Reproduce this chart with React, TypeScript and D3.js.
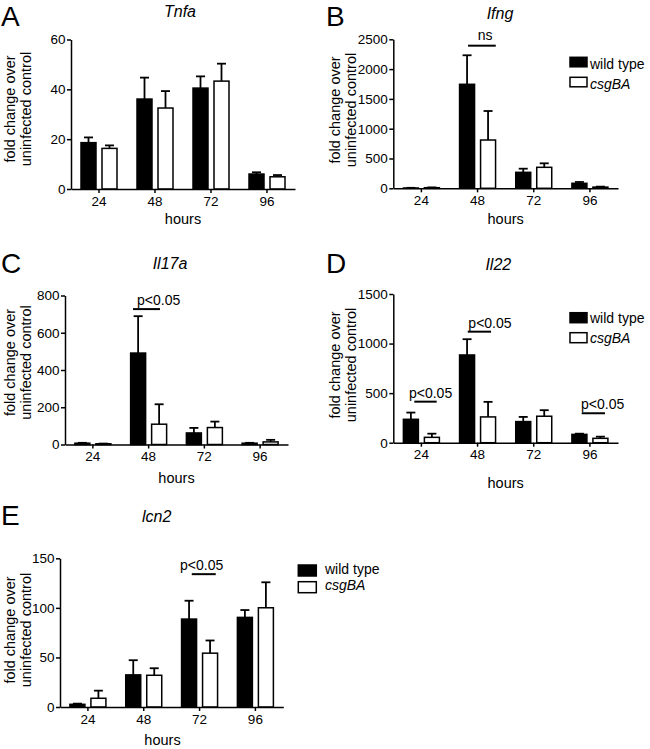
import { useRef, useEffect } from "react";
import * as d3 from "d3";

const FONT = "'Liberation Sans', Arial, Helvetica, sans-serif";
const W = 650;
const H = 749;

const HOURS = ["24", "48", "72", "96"];
const SERIES = ["wild type", "csgBA"];

// mean and upper SEM
const TNFA_WT = [18.6, 36.1, 40.5, 6.0];
const TNFA_WT_SEM = [2.1, 8.6, 4.7, 0.7];
const TNFA_KO = [16.3, 32.5, 43.3, 4.9];
const TNFA_KO_SEM = [1.2, 6.8, 7.0, 0.7];
const TNFA_TICKS = [0, 20, 40, 60];

const IFNG_WT = [5, 1745, 268, 84];
const IFNG_WT_SEM = [3, 487, 61, 22];
const IFNG_KO = [10, 810, 352, 20];
const IFNG_KO_SEM = [5, 487, 67, 8];
const IFNG_TICKS = [0, 500, 1000, 1500, 2000, 2500];

const IL17A_WT = [7, 491, 62, 7];
const IL17A_WT_SEM = [2, 198, 27, 2];
const IL17A_KO = [4, 109, 91, 14];
const IL17A_KO_SEM = [1, 107, 32, 11];
const IL17A_TICKS = [0, 200, 400, 600, 800];

const IL22_WT = [236, 885, 213, 84];
const IL22_WT_SEM = [68, 159, 47, 7];
const IL22_KO = [54, 260, 267, 44];
const IL22_KO_SEM = [37, 152, 61, 17];
const IL22_TICKS = [0, 500, 1000, 1500];

const LCN2_WT = [2.7, 32.4, 88.7, 90.4];
const LCN2_WT_SEM = [0.7, 14.8, 18.5, 7.4];
const LCN2_KO = [8.8, 32, 54.3, 100.1];
const LCN2_KO_SEM = [7.7, 7.1, 12.8, 25.7];
const LCN2_TICKS = [0, 50, 100, 150];

interface Bracket {
  group: number;
  value: number;
  label: string;
  from: number;
  to: number;
  textDx: number;
  anchor: string;
  textDy: number;
}

interface Legend {
  x: number;
  y: number;
  w: number;
  h: number;
  dy: number;
  textX: number;
  textDy: number;
}

interface Panel {
  letter: string;
  title: string;
  wt: number[];
  wtSem: number[];
  ko: number[];
  koSem: number[];
  ticks: number[];
  left: number;
  x0: number;
  x1: number;
  yTop: number;
  yBottom: number;
  titleX: number;
  titleY: number;
  letterY: number;
  labelY: number;
  hoursX?: number;
  hoursY: number;
  legend?: Legend;
  brackets: Bracket[];
}

const pBracket = (group: number, value: number, from: number, to: number, textDx: number): Bracket => ({
  group,
  value,
  label: "p<0.05",
  from,
  to,
  textDx,
  anchor: "start",
  textDy: -4,
});

const PANELS: Panel[] = [
  {
    letter: "A", title: "Tnfa",
    wt: TNFA_WT, wtSem: TNFA_WT_SEM, ko: TNFA_KO, koSem: TNFA_KO_SEM, ticks: TNFA_TICKS,
    left: 0, x0: 71, x1: 295, yTop: 39.5, yBottom: 189,
    titleX: 180, titleY: 17, letterY: 26, labelY: 109, hoursY: 224,
    brackets: [],
  },
  {
    letter: "B", title: "Ifng",
    wt: IFNG_WT, wtSem: IFNG_WT_SEM, ko: IFNG_KO, koSem: IFNG_KO_SEM, ticks: IFNG_TICKS,
    left: 325, x0: 393.3, x1: 618, yTop: 39.3, yBottom: 188.3,
    titleX: 500, titleY: 19, letterY: 26, labelY: 110, hoursY: 223.5,
    legend: { x: 570, y: 57.3, w: 17, h: 9.5, dy: 20, textX: 590, textDy: 12 },
    brackets: [{ group: 1, value: 2393, label: "ns", from: -9.5, to: 18.2, textDx: 7.5, anchor: "middle", textDy: -6 }],
  },
  {
    letter: "C", title: "Il17a",
    wt: IL17A_WT, wtSem: IL17A_WT_SEM, ko: IL17A_KO, koSem: IL17A_KO_SEM, ticks: IL17A_TICKS,
    left: 0, x0: 65, x1: 288, yTop: 295.5, yBottom: 444.5,
    titleX: 170, titleY: 269, letterY: 273, labelY: 362.5, hoursY: 483,
    brackets: [pBracket(1, 727, -15.6, 11.4, -11.6)],
  },
  {
    letter: "D", title: "Il22",
    wt: IL22_WT, wtSem: IL22_WT_SEM, ko: IL22_KO, koSem: IL22_KO_SEM, ticks: IL22_TICKS,
    left: 325, x0: 393.3, x1: 618, yTop: 294, yBottom: 442.7,
    titleX: 498.3, titleY: 270, letterY: 273, labelY: 365, hoursY: 488,
    legend: { x: 570, y: 312.7, w: 17, h: 10, dy: 20, textX: 590, textDy: 10.5 },
    brackets: [
      pBracket(0, 414, -7.1, 15.3, -12.4),
      pBracket(1, 1120, -9.8, 13.5, -9.2),
      pBracket(3, 297, -8.2, 15.1, -8.9),
    ],
  },
  {
    letter: "E", title: "lcn2",
    wt: LCN2_WT, wtSem: LCN2_WT_SEM, ko: LCN2_KO, koSem: LCN2_KO_SEM, ticks: LCN2_TICKS,
    left: 0, x0: 60, x1: 283.3, yTop: 558.3, yBottom: 707,
    titleX: 156.7, titleY: 521.5, letterY: 525, labelY: 630, hoursX: 162.5, hoursY: 745,
    legend: { x: 298.3, y: 565, w: 18, h: 11, dy: 16.7, textX: 325, textDy: 8.5 },
    brackets: [pBracket(2, 134, -7.8, 16.2, -19.5)],
  },
];

function drawPanel(svg: d3.Selection<SVGSVGElement, unknown, null, undefined>, p: Panel) {
  const g = svg.append("g");
  const max = p.ticks[p.ticks.length - 1];

  const x = d3.scaleBand<string>().domain(HOURS).range([p.x0, p.x1]).padding(0);
  const sub = d3.scaleBand<string>().domain(SERIES).range([-18, 18]).paddingInner(6 / 21);
  const y = d3.scaleLinear().domain([0, max]).range([p.yBottom, p.yTop]);

  // panel letter + title
  g.append("text")
    .attr("x", p.left + 1)
    .attr("y", p.letterY)
    .attr("font-size", "28px")
    .attr("font-family", FONT)
    .text(p.letter);
  g.append("text")
    .attr("x", p.titleX)
    .attr("y", p.titleY)
    .attr("text-anchor", "middle")
    .attr("font-size", "16px")
    .attr("font-style", "italic")
    .attr("font-family", FONT)
    .text(p.title);

  // y label, two lines
  ["fold change over", "uninfected control"].forEach((line, i) => {
    const lx = p.left + (i === 0 ? 14.5 : 31);
    g.append("text")
      .attr("transform", `translate(${lx},${p.labelY}) rotate(-90)`)
      .attr("text-anchor", "middle")
      .attr("font-size", "14.5px")
      .attr("font-family", FONT)
      .text(line);
  });

  // bars
  const groups = [
    { key: SERIES[0], vals: p.wt, sem: p.wtSem, fill: "#000" },
    { key: SERIES[1], vals: p.ko, sem: p.koSem, fill: "#fff" },
  ];
  groups.forEach((s) => {
    HOURS.forEach((h, i) => {
      const bx = x(h)! + x.bandwidth() / 2 + sub(s.key)!;
      const cx = bx + sub.bandwidth() / 2;
      const v = s.vals[i];
      const top = y(v + s.sem[i]);
      g.append("line")
        .attr("x1", cx).attr("x2", cx)
        .attr("y1", y(v)).attr("y2", top)
        .attr("stroke", "#000").attr("stroke-width", 1.8);
      g.append("line")
        .attr("x1", cx - 4.5).attr("x2", cx + 4.5)
        .attr("y1", top).attr("y2", top)
        .attr("stroke", "#000").attr("stroke-width", 1.8);
      g.append("rect")
        .attr("x", bx)
        .attr("y", y(v))
        .attr("width", sub.bandwidth())
        .attr("height", y(0) - y(v))
        .attr("fill", s.fill)
        .attr("stroke", "#000")
        .attr("stroke-width", 1.5);
    });
  });

  // y axis
  const ya = g.append("g")
    .attr("transform", `translate(${p.x0},0)`)
    .call(
      d3.axisLeft(y)
        .tickValues(p.ticks)
        .tickFormat(d3.format("d"))
        .tickSize(4)
        .tickSizeOuter(0)
        .tickPadding(1.5)
    );
  ya.select(".domain").attr("stroke-width", 1.5);
  ya.selectAll(".tick line").attr("stroke-width", 1.5);
  ya.selectAll("text").attr("font-size", "13.5px").attr("font-family", FONT).attr("fill", "#000");

  // x axis
  const xa = g.append("g")
    .attr("transform", `translate(0,${p.yBottom})`)
    .call(d3.axisBottom(x).tickSize(4).tickSizeOuter(0).tickPadding(3));
  xa.select(".domain").attr("stroke-width", 1.5);
  xa.selectAll(".tick line").attr("stroke-width", 1.5);
  xa.selectAll("text").attr("font-size", "13.5px").attr("font-family", FONT).attr("fill", "#000");

  g.append("text")
    .attr("x", p.hoursX ?? (p.x0 + p.x1) / 2)
    .attr("y", p.hoursY)
    .attr("text-anchor", "middle")
    .attr("font-size", "14.5px")
    .attr("font-family", FONT)
    .text("hours");

  // significance brackets
  p.brackets.forEach((b) => {
    const c = x(HOURS[b.group])! + x.bandwidth() / 2;
    const by = y(b.value);
    g.append("line")
      .attr("x1", c + b.from).attr("x2", c + b.to)
      .attr("y1", by).attr("y2", by)
      .attr("stroke", "#000").attr("stroke-width", 2);
    g.append("text")
      .attr("x", c + b.textDx)
      .attr("y", by + b.textDy)
      .attr("text-anchor", b.anchor)
      .attr("font-size", "14px")
      .attr("font-family", FONT)
      .text(b.label);
  });

  // legend
  if (p.legend) {
    const L = p.legend;
    SERIES.forEach((name, i) => {
      const ly = L.y + i * L.dy;
      g.append("rect")
        .attr("x", L.x).attr("y", ly)
        .attr("width", L.w).attr("height", L.h)
        .attr("fill", i === 0 ? "#000" : "#fff")
        .attr("stroke", "#000").attr("stroke-width", 1.5);
      g.append("text")
        .attr("x", L.textX)
        .attr("y", ly + L.textDy)
        .attr("font-size", "14px")
        .attr("font-style", i === 1 ? "italic" : "normal")
        .attr("font-family", FONT)
        .text(name);
    });
  }
}

export default function App() {
  const svgRef = useRef<SVGSVGElement>(null);

  useEffect(() => {
    if (!svgRef.current) return;
    const svg = d3.select(svgRef.current);
    svg.selectAll("*").remove();
    svg.append("rect").attr("width", W).attr("height", H).attr("fill", "#fff");
    PANELS.forEach((p) => drawPanel(svg, p));
  }, []);

  return (
    <svg
      ref={svgRef}
      width={W}
      height={H}
      style={{ position: "absolute", left: 0, top: 0, display: "block" }}
    />
  );
}
